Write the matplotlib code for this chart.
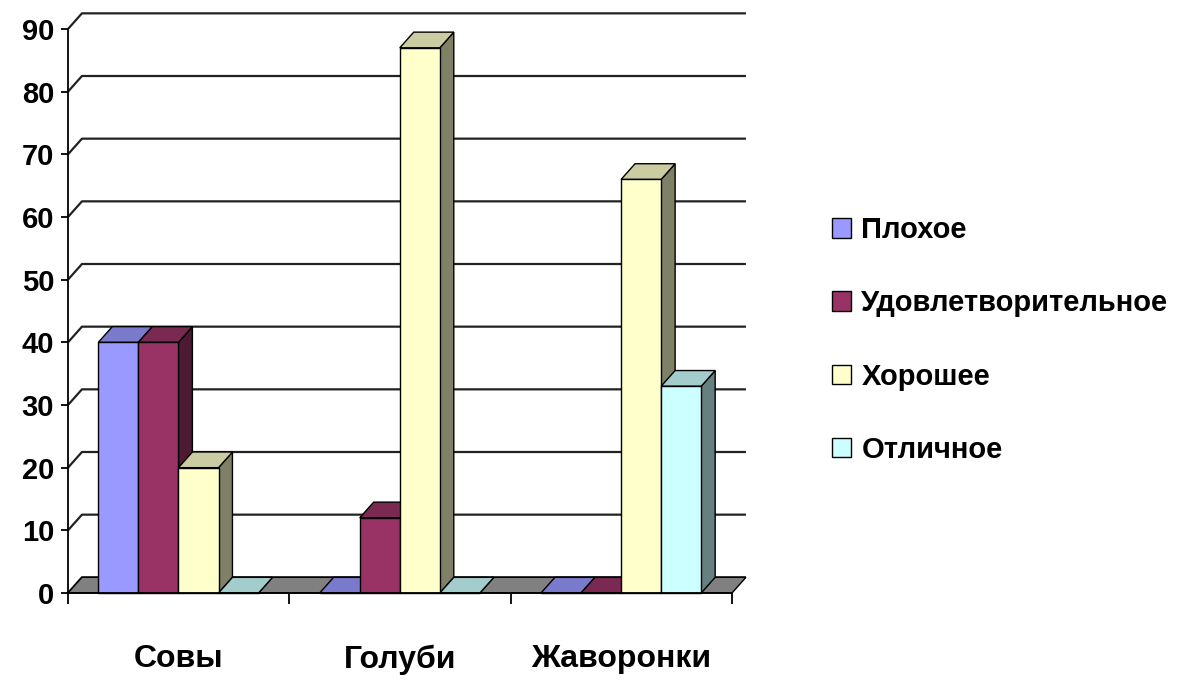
import numpy as np
import matplotlib.pyplot as plt
from matplotlib.patches import Polygon
from matplotlib.colors import to_rgb

plt.rcParams['font.family'] = ['Liberation Sans Narrow', 'Liberation Sans', 'DejaVu Sans']
plt.rcParams['font.weight'] = 'bold'

categories = ['Совы', 'Голуби', 'Жаворонки']
series = ['Плохое', 'Удовлетворительное', 'Хорошее', 'Отличное']
values = {
    'Плохое': [40, 0, 0],
    'Удовлетворительное': [40, 12, 0],
    'Хорошее': [20, 87, 66],
    'Отличное': [0, 0, 33],
}
colors = ['#9999FF', '#993366', '#FFFFCC', '#CCFFFF']
y_ticks = list(range(0, 100, 10))

# depth of the pseudo-3d box (category units, value units)
dx = 0.063
dy = 2.5
bar_w = 0.181
gap = 0.137


def shade(c, k):
    return tuple(v * k for v in to_rgb(c))


fig = plt.figure(figsize=(11.88, 6.83), dpi=100)
ax = fig.add_axes([68 / 1188, 90 / 683, 664 / 1188, 564 / 683])
ax.set_xlim(0, 3)
ax.set_ylim(0, 90)

# back wall gridlines with the slanted joins to the value axis
for v in y_ticks:
    ax.plot([0, dx, 3 + dx], [v, v + dy, v + dy], color='#222222', lw=1.6,
            zorder=1, clip_on=False, solid_capstyle='butt')

# floor
floor = Polygon([(0, 0), (3, 0), (3 + dx, dy), (dx, dy)], closed=True,
                facecolor='#808080', edgecolor='black', lw=1, zorder=2,
                clip_on=False)
ax.add_patch(floor)

handles = []
for j, name in enumerate(series):
    c = colors[j]
    lefts = np.arange(len(categories)) + gap + j * bar_w
    heights = values[name]
    for x0, h in zip(lefts, heights):
        x1 = x0 + bar_w
        side = Polygon([(x1, 0), (x1, h), (x1 + dx, h + dy), (x1 + dx, dy)],
                       closed=True, facecolor=shade(c, 0.5), edgecolor='black',
                       lw=1, zorder=3 + 2 * j, clip_on=False)
        top = Polygon([(x0, h), (x1, h), (x1 + dx, h + dy), (x0 + dx, h + dy)],
                      closed=True, facecolor=shade(c, 0.8), edgecolor='black',
                      lw=1, zorder=3 + 2 * j, clip_on=False)
        ax.add_patch(side)
        ax.add_patch(top)
    bars = ax.bar(lefts, heights, width=bar_w, align='edge', color=c,
                  edgecolor='black', lw=1, zorder=4 + 2 * j, label=name,
                  clip_on=False)
    handles.append(bars)

for s in ['top', 'right']:
    ax.spines[s].set_visible(False)
ax.spines['left'].set_linewidth(1.3)
ax.spines['bottom'].set_linewidth(1.3)
ax.spines['bottom'].set_zorder(20)

ax.set_yticks(y_ticks)
ax.tick_params(axis='y', direction='out', length=5, width=1.3, labelsize=21, pad=5)
ax.set_xticks([0.5, 1.5, 2.5])
ax.set_xticklabels(categories)
ax.set_xticks([0, 1, 2, 3], minor=True)
ax.tick_params(axis='x', which='major', length=0, labelsize=23, pad=37)
ax.tick_params(axis='x', which='minor', direction='out', length=8, width=1.3)

fig.legend(handles, series, loc='center left', bbox_to_anchor=(806 / 1188, 1 - 340 / 683),
           frameon=False, fontsize=21, handlelength=0.65, handleheight=0.65,
           handletextpad=0.35, labelspacing=1.55)

fig.savefig('out.png', dpi=100, facecolor='white')
